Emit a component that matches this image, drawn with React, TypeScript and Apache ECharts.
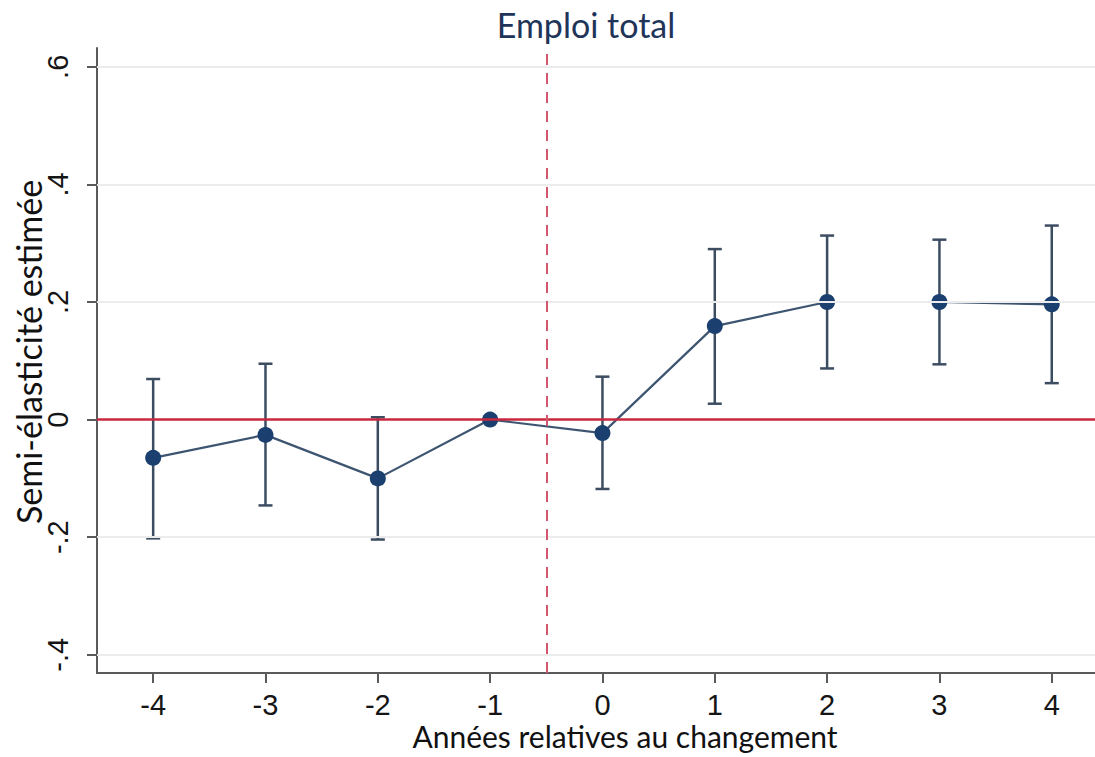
import React, { useEffect, useRef } from "react";
import * as echarts from "echarts";

const years = [-4, -3, -2, -1, 0, 1, 2, 3, 4];
const estimates = [-0.065, -0.026, -0.1, 0, -0.023, 0.159, 0.2, 0.2, 0.196];
const ciLow = [-0.202, -0.146, -0.204, 0, -0.118, 0.027, 0.087, 0.094, 0.062];
const ciHigh = [0.069, 0.095, 0.004, 0, 0.073, 0.29, 0.313, 0.306, 0.33];
const yTicks = [-0.4, -0.2, 0, 0.2, 0.4, 0.6];
const yTickLabels = ["-.4", "-.2", "0", ".2", ".4", ".6"];
const eventLine = -0.5;
const titleText = "Emploi total";
const yTitle = "Semi-élasticité estimée";
const xTitle = "Années relatives au changement";

export default function App() {
  const ref = useRef<HTMLDivElement>(null);
  useEffect(() => {
    if (!ref.current) return;
    const chart = echarts.init(ref.current, null, { renderer: "svg" });
    const labelMap: Record<string, string> = {};
    yTicks.forEach((v, i) => (labelMap[String(v)] = yTickLabels[i]));
    const option: any = {
      animation: false,
      backgroundColor: "#ffffff",
      grid: { left: 97, right: 0, top: 48, bottom: 84 },
      xAxis: {
        type: "value",
        min: -4.5,
        max: 4.385,
        axisLine: { show: true, onZero: false, lineStyle: { color: "#5a5a5a", width: 2 } },
        axisTick: {
          show: true,
          customValues: years,
          length: 10,
          lineStyle: { color: "#5a5a5a", width: 2 },
        },
        axisLabel: {
          customValues: years,
          margin: 19,
          fontFamily: "Liberation Sans",
          fontSize: 29,
          lineHeight: 26,
          color: "#151515",
        },
        splitLine: { show: false },
      },
      yAxis: {
        type: "value",
        min: -0.431,
        max: 0.632,
        axisLine: { show: true, onZero: false, lineStyle: { color: "#5a5a5a", width: 2 } },
        axisTick: {
          show: true,
          customValues: yTicks,
          length: 10,
          lineStyle: { color: "#5a5a5a", width: 2 },
        },
        axisLabel: {
          customValues: yTicks,
          rotate: 90,
          margin: 25,
          fontFamily: "Liberation Sans",
          fontSize: 29,
          color: "#151515",
          formatter: (v: number) => labelMap[String(Math.round(v * 10) / 10)] ?? "",
        },
        splitLine: { show: false },
      },
      graphic: [
        {
          type: "text",
          x: 586,
          y: 24,
          style: {
            text: titleText,
            font: "34px Lato",
            fill: "#1f3459",
            align: "center",
            verticalAlign: "middle",
          },
        },
        {
          type: "text",
          x: 28,
          y: 352,
          rotation: Math.PI / 2,
          style: {
            text: yTitle,
            font: "34px Lato",
            fill: "#111",
            align: "center",
            verticalAlign: "middle",
          },
        },
        {
          type: "text",
          x: 625,
          y: 736,
          style: {
            text: xTitle,
            font: "30px Lato",
            fill: "#111",
            align: "center",
            verticalAlign: "middle",
          },
        },
      ],
      series: [
        {
          type: "line",
          data: [],
          silent: true,
          markLine: {
            silent: true,
            symbol: "none",
            label: { show: false },
            lineStyle: { color: "#ececec", width: 2, type: "solid" },
            data: yTicks.filter((v) => v !== 0).map((v) => ({ yAxis: v })),
          },
        },
        {
          type: "line",
          data: [],
          silent: true,
          markLine: {
            silent: true,
            symbol: "none",
            label: { show: false },
            data: [
              { yAxis: 0, lineStyle: { color: "#c8283f", width: 2.5, type: "solid" } },
              { xAxis: eventLine, lineStyle: { color: "#d4566e", width: 2, type: [11, 8] } },
            ],
          },
        },
        {
          type: "custom",
          data: years.map((x, i) => [x, ciLow[i], ciHigh[i]]),
          encode: { x: 0, y: [1, 2] },
          renderItem: (params: any, api: any) => {
            const x = api.value(0);
            const lo = api.value(1);
            const hi = api.value(2);
            if (lo === hi) return { type: "group", children: [] };
            const pLo = api.coord([x, lo]);
            const pHi = api.coord([x, hi]);
            const w = 7;
            const style = { stroke: "#3c4d62", lineWidth: 2.5 };
            return {
              type: "group",
              children: [
                { type: "line", shape: { x1: pLo[0], y1: pLo[1], x2: pHi[0], y2: pHi[1] }, style },
                { type: "line", shape: { x1: pLo[0] - w, y1: pLo[1], x2: pLo[0] + w, y2: pLo[1] }, style },
                { type: "line", shape: { x1: pHi[0] - w, y1: pHi[1], x2: pHi[0] + w, y2: pHi[1] }, style },
              ],
            };
          },
          z: 3,
        },
        {
          type: "line",
          data: years.map((x, i) => [x, estimates[i]]),
          symbol: "circle",
          symbolSize: 16,
          lineStyle: { color: "#3d5570", width: 2.2 },
          itemStyle: { color: "#1b3f6e" },
          z: 4,
        },
      ],
    };
    chart.setOption(option);
    return () => chart.dispose();
  }, []);
  return (
    <div
      ref={ref}
      style={{ position: "absolute", left: 0, top: 0, width: 1095, height: 757 }}
    />
  );
}
